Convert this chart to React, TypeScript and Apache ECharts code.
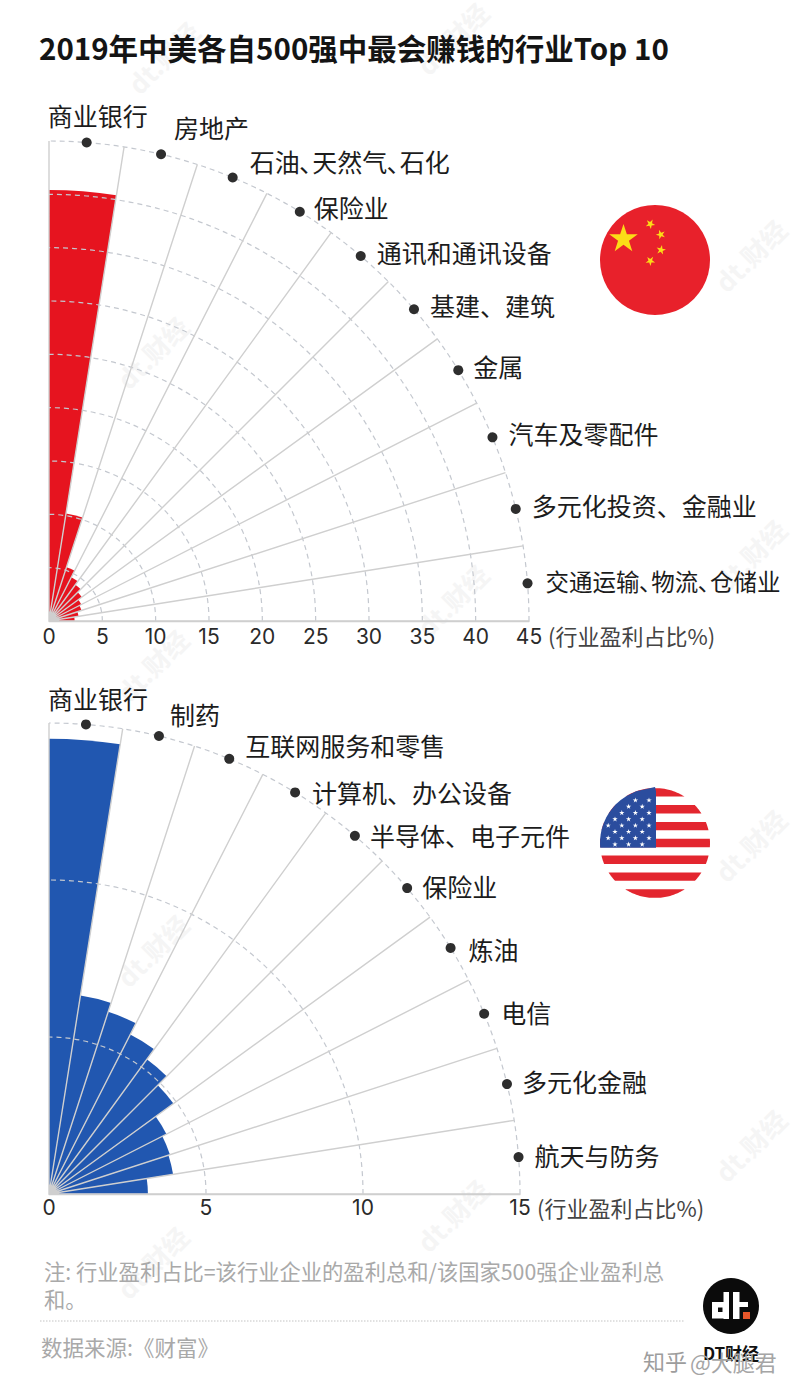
import React, { useEffect, useRef } from "react";
import * as echarts from "echarts";

const TITLE = "2019年中美各自500强中最会赚钱的行业Top 10";
const CN_CATEGORIES = ["商业银行", "房地产", "石油､天然气､石化", "保险业", "通讯和通讯设备", "基建、建筑", "金属", "汽车及零配件", "多元化投资、金融业", "交通运输､物流､仓储业"];
const CN_VALUES = [40.4, 10.2, 5.3, 4.6, 4.2, 3.8, 3.4, 3.2, 2.8, 2.4];
const US_CATEGORIES = ["商业银行", "制药", "互联网服务和零售", "计算机、办公设备", "半导体、电子元件", "保险业", "炼油", "电信", "多元化金融", "航天与防务"];
const US_VALUES = [14.5, 6.4, 6.1, 5.7, 5.3, 4.9, 4.2, 4.05, 4.0, 3.15];
const CN_MAX = 45;
const US_MAX = 15;
const AXIS_NAME = "(行业盈利占比%)";
const NOTE_1 = "注: 行业盈利占比=该行业企业的盈利总和/该国家500强企业盈利总";
const NOTE_2 = "和。";
const SOURCE = "数据来源:《财富》";
const WATERMARK = "dt.财经";

const CJK = '"Noto Sans CJK SC", sans-serif';
const NUM = 'Inter, "Noto Sans CJK SC", sans-serif';
const CN_NUDGE = [[-56, -27], [-4, -27], [0, -17], [-3, -5], [-1, -4], [-1, -4], [-2, -4], [-1, -4], [-1, -4], [1, -2]];
const US_NUDGE = [[-55, -26], [-6, -22], [-1, -14], [0, 0], [-2, -1], [-2, -2], [1, 1], [0, -2], [-2, -3], [-1, -2]];

function star(cx: number, cy: number, R: number, fill: string, rot = 0, z = 6) {
  const pts: number[][] = [];
  for (let i = 0; i < 10; i++) {
    const r = i % 2 === 0 ? R : R * 0.382;
    const a = -Math.PI / 2 + rot + (i * Math.PI) / 5;
    pts.push([cx + r * Math.cos(a), cy + r * Math.sin(a)]);
  }
  return { type: "polygon", z, shape: { points: pts }, style: { fill } };
}

function clipped(cx: number, cy: number, r: number, x0: number, x1: number, y0: number, y1: number, fill: string, z = 5) {
  const left: number[][] = [];
  const right: number[][] = [];
  const n = 14;
  for (let i = 0; i <= n; i++) {
    const y = y0 + ((y1 - y0) * i) / n;
    const d = Math.abs(y - cy) >= r ? 0 : Math.sqrt(r * r - (y - cy) * (y - cy));
    const xl = Math.max(x0, cx - d);
    const xr = Math.min(x1, cx + d);
    left.push([xl, y]);
    right.unshift([Math.max(xl, xr), y]);
  }
  return { type: "polygon", z, shape: { points: [...left, ...right] }, style: { fill } };
}

function text(x: number, y: number, t: string, font: string, fill: string, align = "left", z = 10) {
  return { type: "text", z, x, y, style: { text: t, font, fill, textAlign: align, textVerticalAlign: "middle" } };
}

function flags() {
  const out: any[] = [];
  out.push({ type: "circle", z: 5, shape: { cx: 655, cy: 260, r: 55 }, style: { fill: "#e8212b" } });
  out.push(star(623.5, 239, 15, "#fbdc17"));
  out.push(star(650.3, 224, 5, "#fbdc17", 0.5));
  out.push(star(660.7, 234.5, 5, "#fbdc17", 0.9));
  out.push(star(661, 250, 5, "#fbdc17", 0.2));
  out.push(star(650.3, 261, 5, "#fbdc17", 0.6));

  const cx = 655, cy = 843, r = 55;
  out.push({ type: "circle", z: 4, shape: { cx, cy, r }, style: { fill: "#ffffff" } });
  for (let i = 0; i < 7; i++) {
    const y0 = 788.2 + i * 16.85;
    out.push(clipped(cx, cy, r, 590, 720, y0, y0 + 8.4, "#e3262f"));
  }
  out.push(clipped(cx, cy, r, 590, 656, 787, 847.7, "#2b4d9e", 6));
  for (let row = 0; row < 9; row++) {
    const y = 794 + row * 6.3;
    const odd = row % 2 === 1;
    for (let c = 0; c < 6; c++) {
      const x = (odd ? 649 : 649 - 6.8) - c * 13.6;
      const dx = x - cx, dy = y - cy;
      if (dx * dx + dy * dy < 50 * 50) out.push(star(x, y, 2.8, "#ffffff", 0, 7));
    }
  }
  return out;
}

function logo() {
  const rect = (x: number, y: number, w: number, h: number, fill: string, z = 7) => ({ type: "rect", z, shape: { x, y, width: w, height: h }, style: { fill } });
  return [
    { type: "circle", z: 6, shape: { cx: 731, cy: 1306, r: 28 }, style: { fill: "#0b0b0b" } },
    rect(712, 1302, 17, 16.5, "#ffffff"),
    rect(723.5, 1292, 5.5, 27, "#ffffff"),
    rect(718, 1307.5, 4.5, 4.5, "#0b0b0b", 8),
    rect(733, 1292, 6.5, 27, "#ffffff"),
    rect(733, 1302, 15, 5, "#ffffff"),
    rect(743, 1312, 7, 7, "#e8562a"),
    text(731, 1352, "DT财经", `bold 17px ${CJK}`, "#111111", "center"),
    text(643, 1360, "知乎", `22px ${CJK}`, "#9d9d9d"),
    text(690, 1361, "@大腿君", `22px ${CJK}`, "#a5a5a5", "left", 12),
  ];
}

function watermarks() {
  const spots = [[163, 57], [452, 38], [152, 352], [750, 255], [750, 555], [452, 600], [152, 665], [750, 845], [750, 1145], [452, 1215], [152, 950], [152, 1262]];
  return spots.map(([x, y]) => ({
    type: "text",
    z: -1,
    x,
    y,
    rotation: Math.PI / 4,
    style: { text: WATERMARK, font: `bold 26px ${CJK}`, fill: "#f5f5f5", textAlign: "center", textVerticalAlign: "middle" },
  }));
}

function dotSeries(cats: string[], max: number, nudge: number[][], idx: number) {
  return {
    type: "scatter",
    coordinateSystem: "polar",
    polarIndex: idx,
    angleAxisIndex: idx,
    radiusAxisIndex: idx,
    symbol: "circle",
    symbolSize: 10,
    z: 6,
    itemStyle: { color: "#2e2e2e", opacity: 1 },
    data: [...cats]
      .map((c, i) => ({
        value: [max, c],
        label: {
          show: true,
          position: "right",
          distance: 12,
          formatter: c,
          offset: nudge[i],
          fontSize: c.length > 10 ? 23.5 : 25,
          fontFamily: CJK,
          color: "#1c1c1c",
        },
      }))
      .reverse(),
  };
}

function App() {
  const ref = useRef<HTMLDivElement>(null);
  useEffect(() => {
    const chart = echarts.init(ref.current!, undefined, { renderer: "svg" });
    const angleAxis = (cats: string[], idx: number) => ({
      polarIndex: idx,
      type: "category",
      data: [...cats].reverse(),
      startAngle: 0,
      endAngle: 90,
      clockwise: false,
      boundaryGap: true,
      z: 4,
      axisLine: { show: false },
      axisTick: { show: false, interval: 0 },
      axisLabel: { show: false, interval: 0 },
      splitLine: { show: true, interval: 0, lineStyle: { color: "#cfcfcf", width: 1.4 } },
      splitArea: { show: false },
    });
    const radiusAxis = (max: number, interval: number, margin: number, idx: number) => ({
      polarIndex: idx,
      type: "value",
      min: 0,
      max,
      interval,
      z: 4,
      axisLine: { show: true, lineStyle: { color: "#cfcfcf", width: 1.4 } },
      axisTick: { show: false },
      axisLabel: { show: true, margin, verticalAlign: "top", fontSize: 21, fontFamily: NUM, color: "#2a2a2a" },
      splitLine: { show: true, lineStyle: { color: "#c4c8cf", width: 1.2, type: [5, 4] } },
    });
    const barSeries = (vals: number[], color: string, idx: number) => ({
      type: "bar",
      coordinateSystem: "polar",
      polarIndex: idx,
      angleAxisIndex: idx,
      radiusAxisIndex: idx,
      barCategoryGap: "0%",
      z: 1,
      itemStyle: { color },
      data: [...vals].reverse(),
    });
    chart.setOption({
      animation: false,
      backgroundColor: "#ffffff",
      polar: [
        { center: [49, 621], radius: [0, 480] },
        { center: [49, 1194], radius: [0, 471] },
      ],
      angleAxis: [angleAxis(CN_CATEGORIES, 0), angleAxis(US_CATEGORIES, 1)],
      radiusAxis: [radiusAxis(CN_MAX, 5, -5, 0), radiusAxis(US_MAX, 5, -3, 1)],
      series: [
        barSeries(CN_VALUES, "#e6141f", 0),
        barSeries(US_VALUES, "#2157b0", 1),
        dotSeries(CN_CATEGORIES, CN_MAX, CN_NUDGE, 0),
        dotSeries(US_CATEGORIES, US_MAX, US_NUDGE, 1),
      ],
      graphic: {
        elements: [
          ...watermarks(),
          text(39, 47, TITLE, `bold 29.5px ${CJK}`, "#141414"),
          text(548, 635, AXIS_NAME, `22px ${CJK}`, "#444444"),
          text(537, 1207, AXIS_NAME, `22px ${CJK}`, "#444444"),
          ...flags(),
          text(44, 1270, NOTE_1, `21.3px ${CJK}`, "#a9a9a9"),
          text(44, 1298, NOTE_2, `21.3px ${CJK}`, "#a9a9a9"),
          {
            type: "line",
            z: 5,
            shape: { x1: 40, y1: 1321, x2: 685, y2: 1321 },
            style: { stroke: "#c4c4c4", lineWidth: 1.2, lineDash: [1.5, 1.5] },
          },
          text(41, 1346, SOURCE, `21.5px ${CJK}`, "#a9a9a9"),
          ...logo(),
        ],
      },
    });
    return () => chart.dispose();
  }, []);
  return <div ref={ref} style={{ position: "absolute", left: 0, top: 0, width: 800, height: 1394 }} />;
}

export default App;
